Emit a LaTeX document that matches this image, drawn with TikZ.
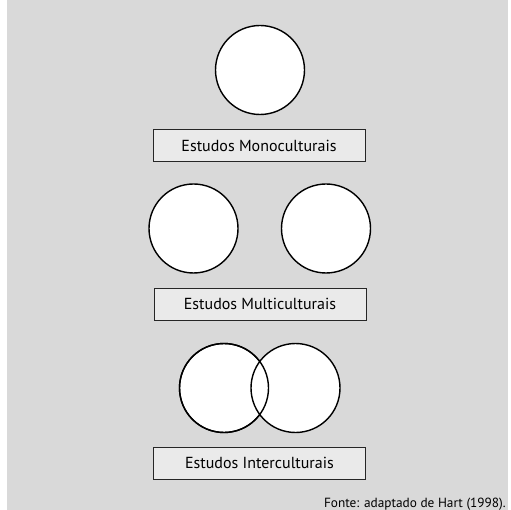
\documentclass[tikz,border=0pt]{standalone}
\usepackage{fontspec}
\setmainfont{PT Sans}
\definecolor{bggray}{RGB}{217,217,217}
\definecolor{boxgray}{RGB}{234,234,234}
\begin{document}
\begin{tikzpicture}[x=1pt,y=-1pt,
  circ/.style={circle,draw=black,fill=white,line width=1.4pt,minimum size=89pt,inner sep=0pt},
  lbl/.style={draw=black!85,fill=boxgray,line width=0.9pt,minimum width=212pt,minimum height=32pt,inner sep=0pt,font=\fontsize{16}{19}\selectfont},
  src/.style={anchor=base east,inner sep=0pt,font=\fontsize{13.3}{15}\selectfont}]
\useasboundingbox (0,0) rectangle (511,510);
\fill[bggray] (7,0) rectangle (508,510);
\node[circ] (c1) at (260,70) {};
\node[lbl] (b1) at (259,145.5) {Estudos Monoculturais};
\node[circ] (c2a) at (193.5,228.5) {};
\node[circ] (c2b) at (326,228.5) {};
\node[lbl] (b2) at (260,304) {Estudos Multiculturais};
\node[circ] (c3a) at (224,388) {};
\node[circ] (c3b) at (295.5,388) {};
\draw[line width=1.4pt] (c3a) circle[radius=44.5pt];
\node[lbl] (b3) at (259.5,463) {Estudos Interculturais};
\node[src] (f) at (506,507) {Fonte: adaptado de Hart (1998).};
\end{tikzpicture}
\end{document}
